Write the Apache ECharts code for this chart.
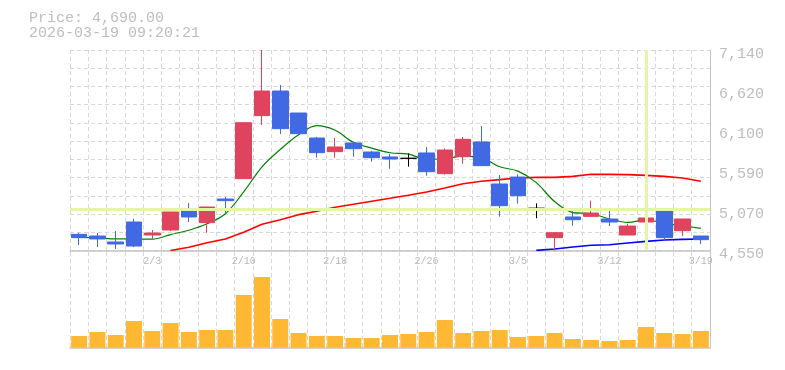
<!DOCTYPE html>
<html>
<head>
<meta charset="utf-8">
<script src="https://cdn.jsdelivr.net/npm/echarts@6/dist/echarts.min.js"></script>
<style>html,body{margin:0;padding:0;background:#fff;}#c{width:785px;height:370px;}</style>
</head>
<body>
<div id="c"></div>
<script>
const dates = ['1/28','1/29','1/30','2/2','2/3','2/4','2/5','2/6','2/9','2/10','2/12','2/13','2/16','2/17','2/18','2/19','2/20','2/24','2/25','2/26','2/27','3/2','3/3','3/4','3/5','3/6','3/9','3/10','3/11','3/12','3/13','3/16','3/17','3/18','3/19'];
const opens  = [4759,4737,4660,4918,4750,4815,5060,4910,5215,5478,6292,6610,6326,6003,5827,5939,5822,5758,5741,5810,5543,5762,5952,5409,5499,5095,4716,4983,4991,4957,4750,4918,5086,4806,4737];
const closes = [4716,4699,4634,4608,4776,5047,4983,5112,5194,6201,6610,6124,6059,5814,5887,5865,5749,5732,5741,5568,5848,5986,5646,5129,5258,5095,4780,4948,5034,4918,4866,4970,4716,4957,4690];
const lows   = [4621,4595,4569,4595,4694,4802,4918,4780,5039,5478,6171,6055,6042,5749,5749,5762,5698,5607,5633,5517,5530,5672,5646,4987,5155,4966,4550,4870,4983,4866,4750,4854,4686,4737,4634];
const highs  = [4780,4776,4802,4961,4815,5047,5164,5112,5241,6201,7140,6688,6326,6016,6003,5945,5835,5797,5805,5887,5870,6016,6158,5525,5534,5159,4780,5060,5194,5086,4897,5151,5086,4957,4737];
const ma5  = [4720,4716,4699,4699,4697,4756,4812,4895,5025,5308,5630,5855,6045,6162,6103,5948,5872,5813,5794,5729,5735,5770,5750,5632,5575,5427,5182,5040,5027,4957,4913,4944,4903,4870,4837];
const ma25 = ['-','-','-','-','-',4550,4592,4651,4699,4785,4888,4948,5013,5056,5109,5147,5186,5224,5263,5306,5357,5413,5444,5465,5487,5495,5495,5508,5534,5534,5530,5521,5508,5487,5444];
const ma75 = ['-','-','-','-','-','-','-','-','-','-','-','-','-','-','-','-','-','-','-','-','-','-','-','-','-',4552,4569,4595,4617,4625,4647,4668,4686,4694,4699];
const volumes = [117000,157000,127000,267000,167000,247000,157000,177000,177000,527000,707000,287000,147000,117000,117000,97000,97000,127000,137000,157000,277000,147000,167000,177000,107000,117000,147000,87000,77000,67000,77000,207000,147000,137000,167000];
const yTickLabels = ['4,550','5,070','5,590','6,100','6,620','7,140'];
const priceMin = 4550, priceMax = 7140;
const crossPrice = 5082, crossDate = '3/16';
const titleLines = ['Price: 4,690.00', '2026-03-19 09:20:21'];

const mono = 'Liberation Mono';
const grid0 = {left: 70, right: 75, top: 50, height: 200.5};
const grid1 = {left: 70, right: 75, top: 252, bottom: 22.3};
const dash = {color: '#d8d8d8', type: [4, 3], width: 1};

const candleData = dates.map((d, i) => {
  const item = {value: [opens[i], closes[i], lows[i], highs[i]]};
  if (opens[i] === closes[i]) {
    item.itemStyle = {color: '#000', color0: '#000', borderColor: '#000', borderColor0: '#000', borderColorDoji: '#000'};
  }
  return item;
});

const chart = echarts.init(document.getElementById('c'), null, {renderer: 'canvas'});
chart.setOption({
  animation: false,
  backgroundColor: '#fff',
  title: {
    text: titleLines.join('\n'),
    left: 29, top: 11, padding: 0,
    textStyle: {fontFamily: mono, fontSize: 15, fontWeight: 'normal', color: '#bdbdbd', lineHeight: 15}
  },
  grid: [grid0, grid1],
  xAxis: [
    {
      type: 'category', gridIndex: 0, data: dates, boundaryGap: true,
      axisLine: {show: true, lineStyle: {color: '#c4c4c4', width: 1.5}},
      axisTick: {show: false},
      axisLabel: {interval: (i) => (i - 4) % 5 === 0, color: '#b8b8b8', fontFamily: mono, fontSize: 10, margin: 6},
      splitLine: {show: true, interval: 0, lineStyle: dash}
    },
    {
      type: 'category', gridIndex: 1, data: dates, boundaryGap: true, offset: 2,
      axisLine: {show: true, lineStyle: {color: '#c4c4c4', width: 1.5}},
      axisTick: {show: false}, axisLabel: {show: false},
      splitLine: {show: true, interval: 0, lineStyle: dash}
    }
  ],
  yAxis: [
    {type: 'value', gridIndex: 0, min: priceMin, max: priceMax, show: false, scale: true},
    {type: 'value', gridIndex: 0, min: 0, max: 11, interval: 1, position: 'left',
     axisLine: {show: false}, axisTick: {show: false}, axisLabel: {show: false},
     splitLine: {show: true, lineStyle: dash}},
    {type: 'value', gridIndex: 0, min: 0, max: 5, interval: 1, position: 'right',
     axisLine: {show: true, lineStyle: {color: '#c4c4c4', width: 1}},
     axisTick: {show: false}, splitLine: {show: false},
     axisLabel: {
       formatter: (v) => '{t|' + yTickLabels[v] + '}', margin: 9,
       rich: {t: {color: '#bdbdbd', fontFamily: mono, fontSize: 15, padding: [8, 0, 0, 0]}}
     }},
    {type: 'value', gridIndex: 1, min: 0, max: 957000, position: 'right',
     axisLine: {show: true, lineStyle: {color: '#c4c4c4', width: 1}},
     axisTick: {show: false}, axisLabel: {show: false}, splitLine: {show: false}}
  ],
  series: [
    {
      type: 'line', xAxisIndex: 0, yAxisIndex: 0, data: dates.map(() => '-'), z: 1, silent: true,
      markLine: {
        silent: true, symbol: ['none', 'none'], label: {show: false},
        lineStyle: {color: '#e4f5a6', width: 3, type: 'solid'},
        data: [{yAxis: crossPrice}, {xAxis: crossDate}]
      }
    },
    {type: 'line', name: 'MA25', xAxisIndex: 0, yAxisIndex: 0, data: ma25, symbol: 'none', z: 2,
     lineStyle: {color: '#ff0000', width: 1.6}},
    {type: 'line', name: 'MA75', xAxisIndex: 0, yAxisIndex: 0, data: ma75, symbol: 'none', z: 2,
     lineStyle: {color: '#0000ff', width: 1.6}},
    {type: 'line', name: 'MA5', xAxisIndex: 0, yAxisIndex: 0, data: ma5, symbol: 'none', z: 2, smooth: 0.35,
     lineStyle: {color: '#008000', width: 1.2}},
    {
      type: 'candlestick', xAxisIndex: 0, yAxisIndex: 0, data: candleData, barWidth: 16, z: 3,
      itemStyle: {color: '#e0435e', color0: '#4169e1', borderColor: '#e0435e', borderColor0: '#4169e1', borderWidth: 1}
    },
    {
      type: 'bar', xAxisIndex: 1, yAxisIndex: 3, data: volumes, barWidth: 16,
      itemStyle: {color: '#ffb834'}
    }
  ]
});
</script>
</body>
</html>
